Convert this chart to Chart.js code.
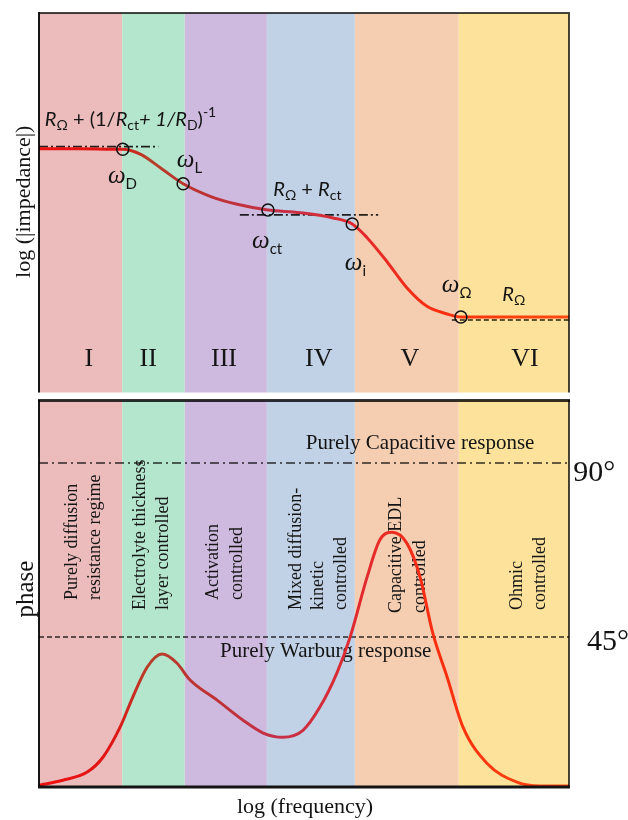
<!DOCTYPE html>
<html>
<head>
<meta charset="utf-8">
<script src="https://cdn.jsdelivr.net/npm/chart.js@4.4.1/dist/chart.umd.min.js"></script>
<style>
  html, body { margin: 0; padding: 0; background: #fff; }
  #wrap { position: relative; width: 628px; height: 820px; overflow: hidden; }
  canvas { position: absolute; left: 0; }
  #impCanvas { top: 0; }
  #phaseCanvas { top: 398px; }
</style>
</head>
<body>
<div id="wrap">
  <canvas id="impCanvas" width="628" height="400"></canvas>
  <canvas id="phaseCanvas" width="628" height="422"></canvas>
</div>
<script>
// ---- frequency regimes (x = log frequency, arbitrary decades 0..10) ----
const regionEdges = [0, 1.57, 2.75, 4.30, 5.96, 7.92, 10];
const regionNumerals = ['I', 'II', 'III', 'IV', 'V', 'VI'];
const regionNames = [
  ['Purely diffusion', 'resistance regime'],
  ['Electrolyte thickness', 'layer controlled'],
  ['Activation', 'controlled'],
  ['Mixed diffusion-', 'kinetic', 'controlled'],
  ['Capacitive EDL', 'controlled'],
  ['Ohmic', 'controlled']
];
const regionColors = ['#ecbcbc', '#b4e6cd', '#cfbadf', '#c1d1e6', '#f5cdb0', '#fce29a'];

// ---- log|Z| spectrum ----
const impFreq = [0, 0.77, 1.40, 1.58, 1.91, 2.34, 2.72, 3.23, 3.74, 4.32, 4.92, 5.55, 5.91, 6.19, 6.57, 6.94, 7.32, 7.70, 7.96, 8.70, 10];
const impLogZ = [6.42, 6.42, 6.41, 6.41, 6.28, 5.87, 5.50, 5.17, 4.96, 4.81, 4.74, 4.60, 4.44, 4.08, 3.44, 2.76, 2.27, 2.07, 1.99, 1.99, 1.99];

// characteristic frequencies ωD, ωL, ωct, ωi, ωΩ on the |Z| curve
const cornerFreq = [1.58, 2.72, 4.32, 5.91, 7.96];
const cornerLogZ = [6.41, 5.50, 4.81, 4.44, 1.99];

// resistive asymptotes: level and frequency span
const asymptoteLevel = [6.48, 4.68, 1.91];
const asymptoteSpan = [[0, 2.25], [3.79, 6.40], [7.79, 10]];

// ---- phase spectrum (degrees) ----
const phaseFreq = [0, 0.45, 0.91, 1.21, 1.53, 1.77, 2.04, 2.32, 2.60, 2.85, 3.36, 3.85, 4.23, 4.60, 4.98, 5.30, 5.62, 5.87, 6.19, 6.43, 6.66, 6.94, 7.19, 7.43, 7.70, 8.00, 8.45, 9.02, 9.45, 10];
const phaseDeg = [6.7, 8.0, 10.1, 14.0, 21.7, 29.5, 37.2, 40.6, 38.3, 33.9, 28.7, 23.5, 20.2, 19.1, 20.9, 26.9, 35.7, 45.0, 60.5, 70.1, 72.1, 69.3, 60.5, 46.0, 34.7, 21.7, 12.4, 7.5, 6.5, 6.5];
const capacitivePhase = 90;
const warburgPhase = 45;

// ---- fonts & helpers ----
const SANS = 'Lato, "Open Sans", sans-serif';
const SERIF = '"Liberation Serif", "DejaVu Serif", serif';
const INK = '#141414';

function pts(xs, ys) { return xs.map((x, i) => ({ x, y: ys[i] })); }

function richText(ctx, x, y, parts) {
  let cx = x;
  for (const p of parts) {
    ctx.font = p.font;
    ctx.fillText(p.text, cx, y + (p.dy || 0));
    cx += ctx.measureText(p.text).width;
  }
}
const R = (sub) => [
  { text: 'R', font: `italic 20px ${SANS}` },
  { text: sub, font: `14px ${SANS}`, dy: 4 }
];
const omega = (sub) => [
  { text: 'ω', font: `italic 25px ${SERIF}` },
  { text: sub, font: `15px ${SANS}`, dy: 6 }
];
const txt = (t) => ({ text: t, font: `20px ${SANS}` });

function curveGradient(context) {
  const chart = context.chart;
  const a = chart.chartArea;
  if (!a) return '#e01010';
  const g = chart.ctx.createLinearGradient(a.left, 0, a.right, 0);
  g.addColorStop(0.00, '#ee1111');
  g.addColorStop(0.14, '#e01515');
  g.addColorStop(0.21, '#b5402a');
  g.addColorStop(0.30, '#bb3333');
  g.addColorStop(0.45, '#c53048');
  g.addColorStop(0.60, '#e02a30');
  g.addColorStop(0.75, '#fa2e10');
  g.addColorStop(1.00, '#ff4a10');
  return g;
}

// coloured bands behind both panels
const regionBands = {
  id: 'regionBands',
  beforeDatasetsDraw(chart) {
    const { ctx, chartArea: a, scales: { x } } = chart;
    ctx.save();
    for (let i = 0; i < regionColors.length; i++) {
      const x0 = x.getPixelForValue(regionEdges[i]);
      const x1 = x.getPixelForValue(regionEdges[i + 1]);
      ctx.fillStyle = regionColors[i];
      ctx.fillRect(x0, a.top, x1 - x0, a.bottom - a.top);
    }
    ctx.restore();
  }
};

// ---- top panel: |Z| annotations ----
const impLabels = [
  { x: 0.11, y: 7.03, parts: [...R('Ω'), txt(' + (1/'), ...R('ct'), { text: '+ 1/', font: `italic 20px ${SANS}` }, ...R('D'), txt(')'), { text: '-1', font: `14px ${SANS}`, dy: -9 }] },
  { x: 1.30, y: 5.53, parts: omega('D') },
  { x: 2.60, y: 5.94, parts: omega('L') },
  { x: 4.42, y: 5.19, parts: [...R('Ω'), txt(' + '), ...R('ct')] },
  { x: 4.02, y: 3.82, parts: omega('ct') },
  { x: 5.77, y: 3.23, parts: omega('i') },
  { x: 7.60, y: 2.64, parts: omega('Ω') },
  { x: 8.74, y: 2.40, parts: R('Ω') }
];
const numeralX = [0.94, 2.06, 3.49, 5.28, 7.00, 9.17];
const numeralY = 0.70;

const impDecor = {
  id: 'impDecor',
  afterDatasetsDraw(chart) {
    const { ctx, chartArea: a, scales: { x, y } } = chart;
    ctx.save();
    ctx.fillStyle = INK;
    ctx.textBaseline = 'alphabetic';
    ctx.textAlign = 'left';
    for (const l of impLabels) richText(ctx, x.getPixelForValue(l.x), y.getPixelForValue(l.y), l.parts);
    ctx.font = `26px ${SERIF}`;
    ctx.textAlign = 'center';
    regionNumerals.forEach((n, i) => ctx.fillText(n, x.getPixelForValue(numeralX[i]), y.getPixelForValue(numeralY)));
    // axis title
    ctx.save();
    ctx.translate(24, (a.top + a.bottom) / 2 - 1);
    ctx.rotate(-Math.PI / 2);
    ctx.font = `22px ${SERIF}`;
    ctx.textBaseline = 'middle';
    ctx.fillText('log (|impedance|)', 0, 0);
    ctx.restore();
    // frame
    ctx.lineWidth = 2;
    ctx.strokeStyle = 'rgba(0,0,0,0.72)';
    ctx.beginPath();
    ctx.moveTo(a.left, a.top); ctx.lineTo(a.right, a.top); ctx.lineTo(a.right, a.bottom);
    ctx.stroke();
    ctx.strokeStyle = 'rgba(0,0,0,0.9)';
    ctx.beginPath();
    ctx.moveTo(a.left, a.top - 1); ctx.lineTo(a.left, a.bottom);
    ctx.stroke();
    ctx.restore();
  }
};

const asymptoteSets = asymptoteLevel.map((lv, i) => ({
  data: asymptoteSpan[i].map(v => ({ x: v, y: lv })),
  showLine: true,
  borderColor: 'rgba(0,0,0,0.85)',
  borderWidth: 1.6,
  borderDash: i === 2 ? [5, 3] : [9, 3, 2, 3],
  pointRadius: 0,
  order: 3
}));

new Chart(document.getElementById('impCanvas'), {
  type: 'scatter',
  data: {
    datasets: [
      {
        data: pts(cornerFreq, cornerLogZ),
        pointRadius: 6,
        pointBorderWidth: 1.5,
        pointBorderColor: '#111',
        pointBackgroundColor: 'rgba(0,0,0,0)',
        order: 1
      },
      {
        data: pts(impFreq, impLogZ),
        showLine: true,
        cubicInterpolationMode: 'monotone',
        borderColor: curveGradient,
        borderWidth: 3,
        pointRadius: 0,
        order: 2
      },
      ...asymptoteSets
    ]
  },
  options: {
    responsive: false,
    animation: false,
    devicePixelRatio: 1,
    layout: { padding: { left: 39, right: 59, top: 13, bottom: 0 } },
    plugins: { legend: { display: false }, tooltip: { enabled: false } },
    scales: {
      x: { type: 'linear', min: 0, max: 10, display: false },
      y: { type: 'linear', min: 0, max: 10, display: false }
    }
  },
  plugins: [regionBands, impDecor]
});

// ---- bottom panel: phase annotations ----
const nameLayout = [
  { x: [0.62, 1.06], y: 54.6 },
  { x: [1.91, 2.34], y: 52.0 },
  { x: [3.28, 3.74], y: 54.6 },
  { x: [4.85, 5.26, 5.70], y: 52.0 },
  { x: [6.75, 7.19], y: 51.2 },
  { x: [9.02, 9.45], y: 52.0 }
];

const phaseText = {
  id: 'phaseText',
  beforeDatasetsDraw(chart) {
    const { ctx, scales: { x, y } } = chart;
    ctx.save();
    ctx.fillStyle = INK;
    ctx.font = `18px ${SERIF}`;
    ctx.textAlign = 'left';
    ctx.textBaseline = 'middle';
    regionNames.forEach((lines, i) => {
      lines.forEach((t, j) => {
        ctx.save();
        ctx.translate(x.getPixelForValue(nameLayout[i].x[j]), y.getPixelForValue(nameLayout[i].y));
        ctx.rotate(-Math.PI / 2);
        ctx.fillText(t, 0, 0);
        ctx.restore();
      });
    });
    ctx.textBaseline = 'alphabetic';
    ctx.textAlign = 'center';
    ctx.font = `21px ${SERIF}`;
    ctx.fillText('Purely Capacitive response', x.getPixelForValue(7.19), y.getPixelForValue(93.6));
    ctx.fillText('Purely Warburg response', x.getPixelForValue(5.41), y.getPixelForValue(39.8));
    ctx.restore();
  }
};

const phaseDecor = {
  id: 'phaseDecor',
  afterDatasetsDraw(chart) {
    const { ctx, chartArea: a, scales: { x, y } } = chart;
    ctx.save();
    ctx.fillStyle = INK;
    ctx.textAlign = 'left';
    ctx.font = `30px ${SERIF}`;
    ctx.fillText(capacitivePhase + '°', x.getPixelForValue(10.08), y.getPixelForValue(85.3));
    ctx.fillText(warburgPhase + '°', x.getPixelForValue(10.34), y.getPixelForValue(41.6));
    ctx.textAlign = 'center';
    ctx.font = `22px ${SERIF}`;
    ctx.fillText('log (frequency)', (a.left + a.right) / 2 + 1, a.bottom + 27);
    ctx.save();
    ctx.translate(26, y.getPixelForValue(57.4));
    ctx.rotate(-Math.PI / 2);
    ctx.font = `25px ${SERIF}`;
    ctx.textBaseline = 'middle';
    ctx.fillText('phase', 0, 0);
    ctx.restore();
    // frame
    ctx.strokeStyle = 'rgba(0,0,0,0.72)';
    ctx.lineWidth = 2;
    ctx.beginPath();
    ctx.moveTo(a.right, a.top); ctx.lineTo(a.right, a.bottom);
    ctx.stroke();
    ctx.strokeStyle = 'rgba(0,0,0,0.9)';
    ctx.beginPath();
    ctx.moveTo(a.left, a.top); ctx.lineTo(a.left, a.bottom);
    ctx.stroke();
    ctx.lineWidth = 3;
    ctx.strokeStyle = 'rgba(0,0,0,0.8)';
    ctx.beginPath();
    ctx.moveTo(a.left - 1, a.top + 0.5); ctx.lineTo(a.right + 1, a.top + 0.5);
    ctx.stroke();
    ctx.strokeStyle = 'rgba(0,0,0,0.92)';
    ctx.beginPath();
    ctx.moveTo(a.left - 1, a.bottom + 1); ctx.lineTo(a.right + 1, a.bottom + 1);
    ctx.stroke();
    ctx.restore();
  }
};

new Chart(document.getElementById('phaseCanvas'), {
  type: 'scatter',
  data: {
    datasets: [
      {
        data: pts(phaseFreq, phaseDeg),
        showLine: true,
        cubicInterpolationMode: 'monotone',
        borderColor: curveGradient,
        borderWidth: 3,
        pointRadius: 0,
        order: 1
      },
      {
        data: [{ x: 0, y: capacitivePhase }, { x: 10, y: capacitivePhase }],
        showLine: true,
        borderColor: 'rgba(0,0,0,0.8)',
        borderWidth: 1.5,
        borderDash: [9, 4, 2, 4],
        pointRadius: 0,
        order: 2
      },
      {
        data: [{ x: 0, y: warburgPhase }, { x: 10, y: warburgPhase }],
        showLine: true,
        borderColor: 'rgba(0,0,0,0.8)',
        borderWidth: 1.5,
        borderDash: [5, 3],
        pointRadius: 0,
        order: 2
      }
    ]
  },
  options: {
    responsive: false,
    animation: false,
    devicePixelRatio: 1,
    layout: { padding: { left: 39, right: 59, top: 2, bottom: 34 } },
    plugins: { legend: { display: false }, tooltip: { enabled: false } },
    scales: {
      x: { type: 'linear', min: 0, max: 10, display: false },
      y: { type: 'linear', min: 6.5, max: 106.3, display: false }
    }
  },
  plugins: [regionBands, phaseText, phaseDecor]
});
</script>
</body>
</html>
